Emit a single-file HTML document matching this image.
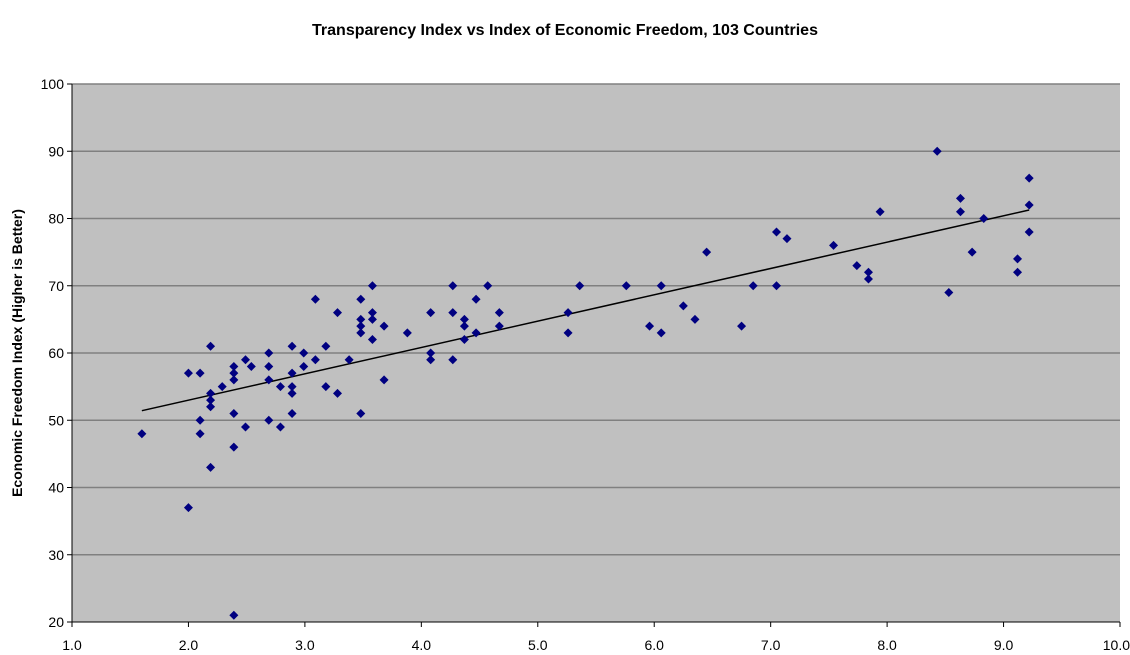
<!DOCTYPE html>
<html><head><meta charset="utf-8"><style>
body{margin:0;background:#fff;}
svg{display:block;font-family:"Liberation Sans",Arial,sans-serif;}
</style></head><body>
<svg id="chart" width="1130" height="655" viewBox="0 0 1130 655">
<rect x="0" y="0" width="1130" height="655" fill="#fff"/>
<text x="565" y="35" text-anchor="middle" font-size="16" font-weight="bold">Transparency Index vs Index of Economic Freedom, 103 Countries</text>
<rect x="72" y="84" width="1048" height="538" fill="#c0c0c0"/>
<g id="grid"></g>
<g id="axes"></g>
<g id="marks"></g>
<text transform="translate(22,353) rotate(-90)" text-anchor="middle" font-size="14" font-weight="bold">Economic Freedom Index (Higher is Better)</text>
</svg>
<script>
const xVals=[1.6,2.0,2.0,2.1,2.1,2.1,2.19,2.19,2.19,2.19,2.19,2.29,2.39,2.39,2.39,2.39,2.39,2.39,2.49,2.49,2.54,2.69,2.69,2.69,2.69,2.79,2.79,2.89,2.89,2.89,2.89,2.89,2.99,2.99,3.09,3.09,3.18,3.18,3.28,3.28,3.38,3.48,3.48,3.48,3.48,3.48,3.58,3.58,3.58,3.58,3.68,3.68,3.88,4.08,4.08,4.08,4.27,4.27,4.27,4.37,4.37,4.37,4.47,4.47,4.57,4.67,4.67,5.26,5.26,5.36,5.76,5.96,6.06,6.06,6.25,6.35,6.45,6.75,6.85,7.05,7.05,7.14,7.54,7.74,7.84,7.84,7.94,8.43,8.53,8.63,8.63,8.73,8.83,9.12,9.12,9.22,9.22,9.22];
const yVals=[48,57,37,57,50,48,61,54,53,52,43,55,58,57,56,51,46,21,59,49,58,60,58,56,50,55,49,61,57,55,54,51,60,58,68,59,61,55,66,54,59,68,65,64,63,51,70,66,65,62,64,56,63,66,60,59,70,66,59,65,64,62,68,63,70,66,64,66,63,70,70,64,70,63,67,65,75,64,70,78,70,77,76,73,72,71,81,90,69,83,81,75,80,74,72,86,82,78];
const xTicks=["1.0","2.0","3.0","4.0","5.0","6.0","7.0","8.0","9.0","10.0"];
const yTicks=[20,30,40,50,60,70,80,90,100];
const trendRange=[1.6,9.22];
const NS="http://www.w3.org/2000/svg";
const L=72,R=1120,T=84,B=622;
const sx=v=>L+(v-1)/9*(R-L);
const sy=v=>B-(v-20)/80*(B-T);
function mk(tag,attrs,parent){const e=document.createElementNS(NS,tag);for(const k in attrs)e.setAttribute(k,attrs[k]);parent.appendChild(e);return e;}
const grid=document.getElementById('grid'),axes=document.getElementById('axes'),marks=document.getElementById('marks');
yTicks.forEach(v=>{
  const y=sy(v);
  if(v>20){const g=mk('line',{x1:L,x2:R,y1:y,y2:y,stroke:'#808080','stroke-width':1.5},grid);
  
  }
  mk('line',{x1:L-5,x2:L,y1:y,y2:y,stroke:'#000'},axes);
  const t=mk('text',{x:L-8,y:y+5,'text-anchor':'end','font-size':14},axes);
  t.textContent=v;
  
  
});
xTicks.forEach((s,i)=>{
  const x=sx(parseFloat(s));
  mk('line',{x1:x,x2:x,y1:B,y2:B+5,stroke:'#000'},axes);
  const last=i===xTicks.length-1;
  const t=mk('text',{x:last?1130:x,y:B+28,'text-anchor':last?'end':'middle','font-size':14},axes);
  t.textContent=s;
  
  
});
mk('line',{x1:L,x2:L,y1:T,y2:B,stroke:'#000'},axes);
mk('line',{x1:L,x2:R,y1:B,y2:B,stroke:'#000'},axes);
const n=xVals.length;let mx=0,my=0;for(let i=0;i<n;i++){mx+=xVals[i];my+=yVals[i];}mx/=n;my/=n;
let sxy=0,sxx=0;for(let i=0;i<n;i++){sxy+=(xVals[i]-mx)*(yVals[i]-my);sxx+=(xVals[i]-mx)**2;}
const b=sxy/sxx,a=my-b*mx;
const tl=mk('line',{x1:sx(trendRange[0]),y1:sy(a+b*trendRange[0]),x2:sx(trendRange[1]),y2:sy(a+b*trendRange[1]),stroke:'#000','stroke-width':1.5},marks);


for(let i=0;i<n;i++){
  const x=sx(xVals[i]),y=sy(yVals[i]);
  const p=mk('polygon',{points:`${x},${y-4.5} ${x+4.5},${y} ${x},${y+4.5} ${x-4.5},${y}`,fill:'#000080'},marks);
  
  
}
</script>
</body></html>
